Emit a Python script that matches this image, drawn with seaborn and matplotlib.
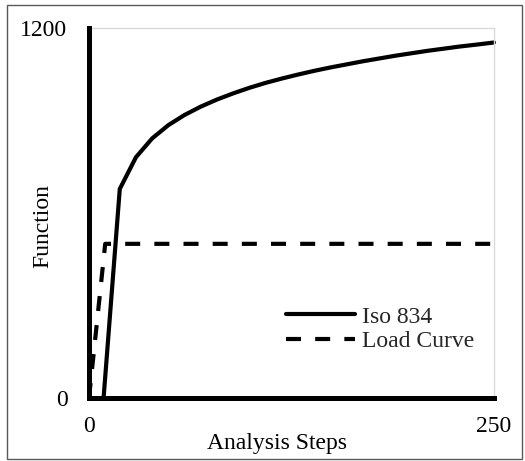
import matplotlib
matplotlib.use("Agg")
import matplotlib.pyplot as plt
from matplotlib.patches import Rectangle
import seaborn as sns
import pandas as pd

# Fire curve (ISO 834) sampled every 10 analysis steps
iso_steps = [9, 19, 29, 39, 49, 59, 69, 79, 89, 99, 109, 119, 129, 139,
             149, 159, 169, 179, 189, 199, 209, 219, 229, 239, 250]
iso_values = [0, 678, 781, 842, 885, 918, 945, 968, 988, 1006, 1022, 1036,
              1049, 1061, 1072, 1082, 1092, 1101, 1110, 1118, 1126, 1133,
              1140, 1146, 1153]

# Mechanical load curve: ramp then hold
load_steps = [0, 10, 250]
load_values = [0, 500, 500]

x_ticks = [0, 250]
y_ticks = [0, 1200]

sns.set_theme(style="white")
plt.rcParams["font.family"] = ["Liberation Serif", "DejaVu Serif"]
plt.rcParams["font.size"] = 17

iso_df = pd.DataFrame({"step": iso_steps, "value": iso_values})
load_df = pd.DataFrame({"step": load_steps, "value": load_values})

fig = plt.figure(figsize=(5.25, 4.61), dpi=100)
ax = fig.add_axes([89 / 525, 63 / 461, 405 / 525, 370 / 461])

sns.lineplot(data=iso_df, x="step", y="value", ax=ax, color="black",
             linewidth=3.0, label="Iso 834", sort=False, clip_on=False,
             solid_joinstyle="miter")
sns.lineplot(data=load_df, x="step", y="value", ax=ax, color="black",
             linewidth=3.0, label="Load Curve", sort=False,
             linestyle=(0, (3.6, 3.4)), dash_capstyle="butt")

ax.set_xlim(0, 250)
ax.set_ylim(0, 1200)
ax.set_xticks(x_ticks)
ax.set_yticks(y_ticks)
ax.tick_params(axis="both", length=0, labelsize=17, colors="black")
ax.tick_params(axis="y", pad=15.5)
ax.tick_params(axis="x", pad=13)

for side in ("left", "bottom"):
    ax.spines[side].set_color("black")
    ax.spines[side].set_linewidth(3.6)
    ax.spines[side].set_zorder(3)
for side in ("top", "right"):
    ax.spines[side].set_color("#d9d9d9")
    ax.spines[side].set_linewidth(1.0)

ax.set_xlabel("Analysis Steps", fontsize=17, color="black")
ax.set_ylabel("Function", fontsize=17, color="black")
ax.xaxis.set_label_coords(0.464, -0.122)
ax.xaxis.label.set_va("center")
ax.yaxis.set_label_coords(-0.115, 0.465)
ax.yaxis.label.set_va("center")

ax.legend(loc="center left", bbox_to_anchor=(0.486, 0.186), frameon=False,
          fontsize=17, handlelength=2.92, handletextpad=0.3,
          labelspacing=0.14, borderpad=0, borderaxespad=0)

# Outer chart frame
fig.patches.append(Rectangle((7 / 525, 2 / 461), 515 / 525, 454 / 461,
                             transform=fig.transFigure, fill=False,
                             edgecolor="#595959", linewidth=1.0))

fig.savefig("out.png", dpi=100)
